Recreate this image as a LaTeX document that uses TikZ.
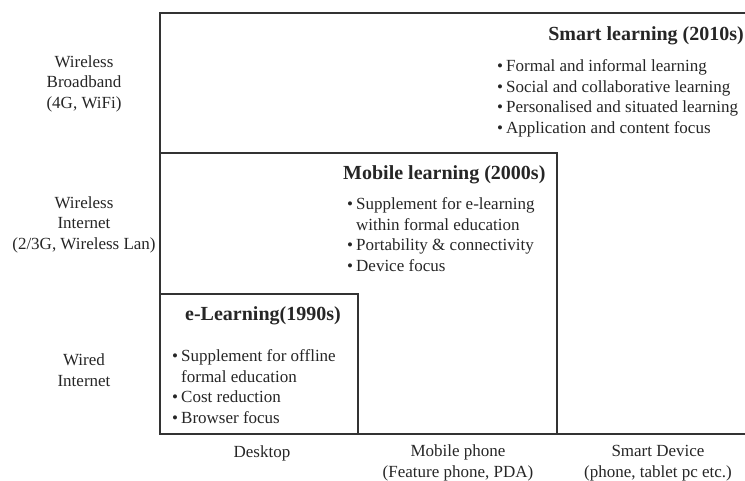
\documentclass[tikz,border=0pt]{standalone}
\usepackage{fontspec}
\setmainfont{Liberation Serif}

\tikzset{
	lbl/.style={align=center,inner sep=0pt,text=black!85,font=\fontsize{17}{20.5}\selectfont},
	lst/.style={align=left,inner sep=0pt,text=black!85,font=\fontsize{17}{20.5}\selectfont},
	hd/.style={inner sep=0pt,text=black!85,font=\fontsize{20}{24}\selectfont\bfseries},
	frame/.style={line width=1.1pt,black!80}
}
\newcommand{\itm}{\makebox[9pt][l]{\textbullet}}
\newcommand{\cnt}{\hspace*{9pt}}

\begin{document}
\begin{tikzpicture}[x=1pt,y=-1pt]
	\useasboundingbox (0,0) rectangle (745,480);
	% the three nested eras
	\draw[frame] (745,13) -- (160,13) -- (160,434) -- (745,434);
	\draw[frame] (160,153) -- (557,153) -- (557,434);
	\draw[frame] (160,294) -- (358,294) -- (358,434);

	% multi-line nodes sit on the baseline of their last line
	\node[hd,anchor=base east] (smart) at (744,40) {Smart learning (2010s)};
	\node[lst,anchor=base west] (smartlist) at (497,133) {\itm Formal and informal learning\\ \itm Social and collaborative learning\\ \itm Personalised and situated learning\\ \itm Application and content focus};

	\node[hd,anchor=base west] (mobile) at (343,179) {Mobile learning (2000s)};
	\node[lst,anchor=base west] (mobilelist) at (347,271) {\itm Supplement for e-learning\\ \cnt within formal education\\ \itm Portability \& connectivity\\ \itm Device focus};

	\node[hd,anchor=base west] (elearn) at (185,320) {e-Learning(1990s)};
	\node[lst,anchor=base west] (elearnlist) at (172,423) {\itm Supplement for offline\\ \cnt formal education\\ \itm Cost reduction\\ \itm Browser focus};

	% network axis
	\node[lbl,anchor=base] (bband) at (84,108) {Wireless\\ Broadband\\ (4G, WiFi)};
	\node[lbl,anchor=base] (winet) at (84,249) {Wireless\\ Internet\\ (2/3G, Wireless Lan)};
	\node[lbl,anchor=base] (wired) at (84,386) {Wired\\ Internet};

	% device axis
	\node[lbl,anchor=base] (desktop) at (262,457) {Desktop};
	\node[lbl,anchor=base] (phone) at (458,477) {Mobile phone\\ (Feature phone, PDA)};
	\node[lbl,anchor=base] (smartdev) at (658,477) {Smart Device\\ (phone, tablet pc etc.)};
\end{tikzpicture}
\end{document}
